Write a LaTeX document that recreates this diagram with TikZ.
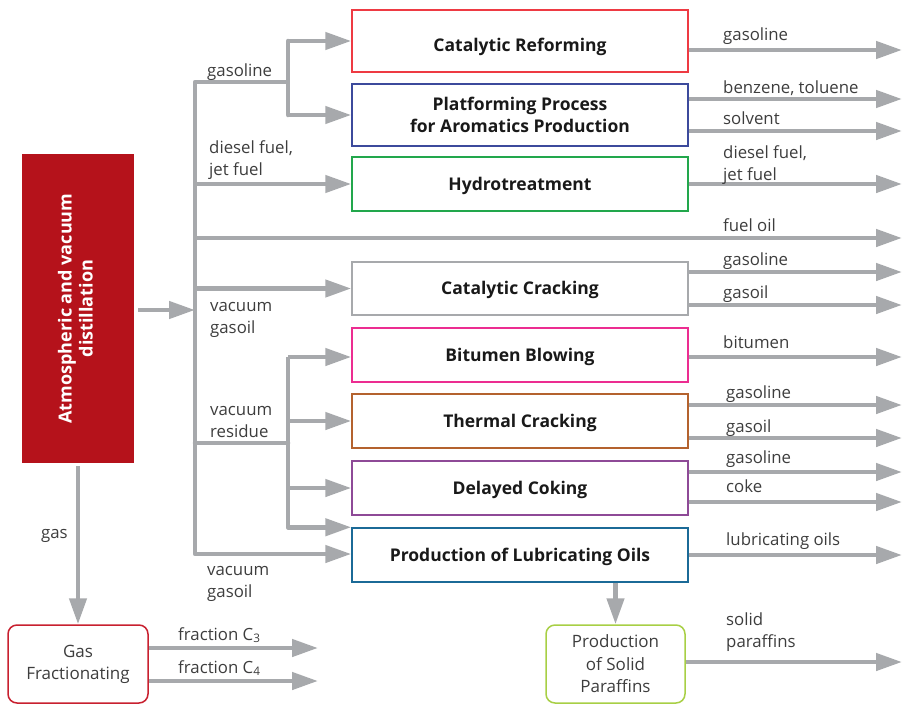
\documentclass[tikz,border=0pt]{standalone}
\usepackage{fontspec}
\usepackage{graphicx}
\setmainfont{Open Sans}
\usetikzlibrary{arrows.meta}
\definecolor{flowgray}{HTML}{A7A9AC}
\definecolor{labelgray}{HTML}{3D3D3D}
\definecolor{distred}{HTML}{B5121B}
\definecolor{crred}{HTML}{EE3A43}
\definecolor{pfblue}{HTML}{3C4A9C}
\definecolor{htgreen}{HTML}{22A74C}
\definecolor{ccgray}{HTML}{A7A9AC}
\definecolor{bbpink}{HTML}{EC2D91}
\definecolor{tcbrown}{HTML}{B4622E}
\definecolor{dcpurple}{HTML}{8E4A97}
\definecolor{loteal}{HTML}{1B6A97}
\definecolor{gfred}{HTML}{C8202F}
\definecolor{pspgreen}{HTML}{A8CF45}
\begin{document}
\begin{tikzpicture}[x=1pt,y=-1pt,
  flow/.style={draw=flowgray,line width=4.5pt,line join=round,-{Triangle[length=26pt,width=17pt]}},
  pipe/.style={draw=flowgray,line width=4.5pt,line join=round,line cap=round},
  procbox/.style={draw=#1,line width=1.5pt,minimum width=336pt,inner sep=0pt,align=center,
    font=\fontsize{17.5}{22}\selectfont\bfseries,text=black!90},
  onebox/.style={procbox=#1,text height=16pt,text depth=4pt},
  rbox/.style={draw=#1,line width=1.5pt,rounded corners=9pt,minimum height=78pt,align=center,
    inner sep=0pt,font=\fontsize{17}{22.5}\selectfont,text=labelgray},
  lbl/.style={anchor=base west,inner sep=0pt,align=left,font=\fontsize{16.8}{22}\selectfont,text=labelgray},
]
\useasboundingbox (0,0) rectangle (902,704);

% source box
\node[fill=distred,minimum width=112pt,minimum height=309pt,inner sep=0pt,text=white,
  font=\fontsize{18}{21}\selectfont\bfseries] (dist) at (78,308.5)
  {\rotatebox{90}{\begin{tabular}{@{}c@{}}Atmospheric and vacuum\\distillation\end{tabular}}};

% process boxes
\node[onebox=crred,minimum height=62pt,text height=20pt,text depth=0pt] (cr) at (520,41) {Catalytic Reforming};
\node[procbox=pfblue,minimum height=62pt] (pf) at (520,115) {Platforming Process\\for Aromatics Production};
\node[onebox=htgreen,minimum height=54pt] (ht) at (520,184) {Hydrotreatment};
\node[onebox=ccgray,minimum height=53pt] (cc) at (520,288.5) {Catalytic Cracking};
\node[onebox=bbpink,minimum height=54pt] (bb) at (520,355) {Bitumen Blowing};
\node[onebox=tcbrown,minimum height=54pt] (tc) at (520,421) {Thermal Cracking};
\node[onebox=dcpurple,minimum height=54pt] (dc) at (520,488) {Delayed Coking};
\node[onebox=loteal,minimum height=54pt] (lo) at (520,555) {Production of Lubricating Oils};

\node[rbox=gfred,minimum width=140pt] (gf) at (78,664) {\raisebox{-2.5pt}{\begin{tabular}{@{}c@{}}Gas\\Fractionating\end{tabular}}};
\node[rbox=pspgreen,minimum width=139pt] (psp) at (615.5,664) {Production\\of Solid\\Paraffins};

% junctions
\coordinate (jTop) at (195,82);
\coordinate (jBot) at (195,554);
\coordinate (jIn) at (195,310);
\coordinate (jGas) at (288,82);
\coordinate (jRes) at (288,443);
\coordinate (jBB) at (288,357);

% input side
\draw[flow,shorten <=4pt] (dist.east |- jIn) -- (jIn);
\draw[flow] (jGas) -- (jTop) -- (jBot) -- (lo.west |- jBot);
\draw[pipe] (jGas |- cr.west) -- (jGas |- pf.west);
\draw[flow] (jGas |- cr.west) -- (cr.west);
\draw[flow] (jGas |- pf.west) -- (pf.west);
\draw[flow] (jTop |- ht.west) -- (ht.west);
\draw[flow] (jTop |- cc.west) -- (cc.west);
\draw[pipe] (jTop |- jRes) -- (jRes);
\draw[flow] (jBB) -- (bb.west |- jBB);
\draw[flow] (jBB) -- (jRes |- lo.north west) -- (lo.north west);
\draw[flow] (jRes |- tc.west) -- (tc.west);
\draw[flow] (jRes |- dc.west) -- (dc.west);

% output ends
\coordinate (oCR) at (902,50);
\coordinate (oPF1) at (902,99);
\coordinate (oPF2) at (902,131);
\coordinate (oHT) at (902,184);
\coordinate (oFO) at (902,238);
\coordinate (oCC1) at (902,272);
\coordinate (oCC2) at (902,305);
\coordinate (oBB) at (902,357);
\coordinate (oTC1) at (902,405);
\coordinate (oTC2) at (902,438);
\coordinate (oDC1) at (902,472);
\coordinate (oDC2) at (902,502);
\coordinate (oLO) at (902,555);
\coordinate (oSP) at (902,662);
\coordinate (fC3) at (318,648);
\coordinate (fC4) at (318,681);

\draw[flow] (cr.east |- oCR) -- (oCR);
\draw[flow] (pf.east |- oPF1) -- (oPF1);
\draw[flow] (pf.east |- oPF2) -- (oPF2);
\draw[flow] (ht.east |- oHT) -- (oHT);
\draw[flow] (jTop |- oFO) -- (oFO);
\draw[flow] (cc.east |- oCC1) -- (oCC1);
\draw[flow] (cc.east |- oCC2) -- (oCC2);
\draw[flow] (bb.east |- oBB) -- (oBB);
\draw[flow] (tc.east |- oTC1) -- (oTC1);
\draw[flow] (tc.east |- oTC2) -- (oTC2);
\draw[flow] (dc.east |- oDC1) -- (oDC1);
\draw[flow] (dc.east |- oDC2) -- (oDC2);
\draw[flow] (lo.east |- oLO) -- (oLO);
\draw[flow] (psp.east |- oSP) -- (oSP);
\draw[flow,shorten <=3pt] (dist.south) -- (gf.north);
\draw[flow] (gf.east |- fC3) -- (fC3);
\draw[flow] (gf.east |- fC4) -- (fC4);
\draw[flow] (lo.south -| psp.north) -- (psp.north);

% left labels (base = last line)
\node[lbl] (lGas) at (207,76) {gasoline};
\node[lbl] (lDie) at (209,175) {diesel fuel,\\jet fuel};
\node[lbl] (lVG1) at (210,333) {vacuum\\gasoil};
\node[lbl] (lVR) at (210,437) {vacuum\\residue};
\node[lbl] (lVG2) at (207,597) {vacuum\\gasoil};
\node[lbl] (lgas) at (41,538) {gas};
\node[lbl] (lC3) at (178,640) {fraction C\textsubscript{3}};
\node[lbl] (lC4) at (178,673) {fraction C\textsubscript{4}};

% right labels
\node[lbl] (rCR) at (723,40) {gasoline};
\node[lbl] (rPF1) at (723,93) {benzene, toluene};
\node[lbl] (rPF2) at (723,124) {solvent};
\node[lbl] (rHT) at (723,180) {diesel fuel,\\jet fuel};
\node[lbl] (rFO) at (723,231) {fuel oil};
\node[lbl] (rCC1) at (723,265) {gasoline};
\node[lbl] (rCC2) at (723,298) {gasoil};
\node[lbl] (rBB) at (723,348) {bitumen};
\node[lbl] (rTC1) at (726,398) {gasoline};
\node[lbl] (rTC2) at (726,432) {gasoil};
\node[lbl] (rDC1) at (726,463) {gasoline};
\node[lbl] (rDC2) at (726,492) {coke};
\node[lbl] (rLO) at (726,545) {lubricating oils};
\node[lbl] (rSP) at (726,647) {solid\\paraffins};
\end{tikzpicture}
\end{document}
